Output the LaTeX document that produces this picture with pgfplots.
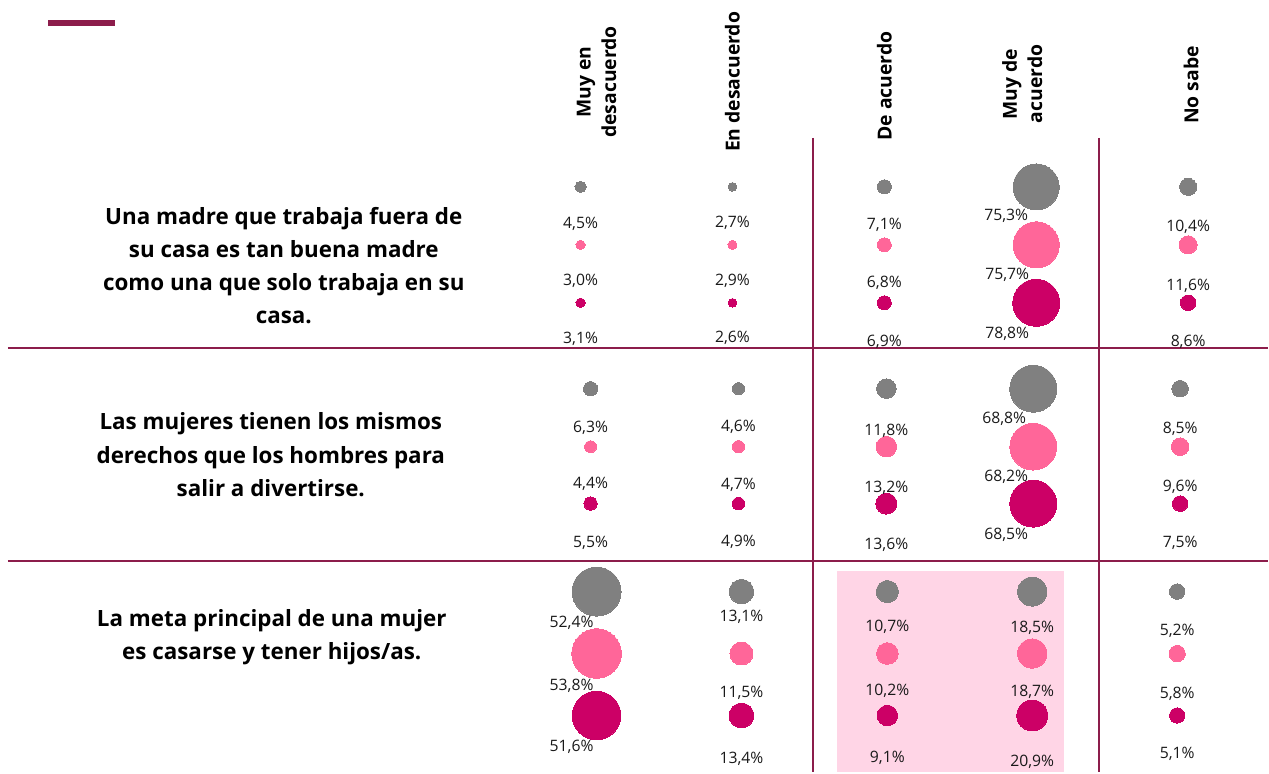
\documentclass[border=0pt]{standalone}
\usepackage{fontspec}
\setmainfont{Open Sans}
\usepackage{pgfplots}
\usepackage{pgfplotstable}
\pgfplotsset{compat=1.18}

\definecolor{grayc}{HTML}{808080}
\definecolor{pinkc}{HTML}{FF6699}
\definecolor{magc}{HTML}{CC0066}
\definecolor{linec}{HTML}{8C1D4B}
\definecolor{bgpink}{HTML}{FFD5E6}

% x y = bubble centre (px), v = value, k = bubble scale of the row, lx ly = label centre
\pgfplotstableread{
x y v k lx ly
581 187 4.5 5.30 581 224
733 187 2.7 5.30 733 223
885 187 7.1 5.30 885 225
1037 187 75.3 5.30 1007 216
1189 187 10.4 5.30 1189 227
591 389 6.3 5.67 591 428
739 389 4.6 5.67 739 427
887 389 11.8 5.67 887 431
1034 389 68.8 5.67 1005 419
1181 389 8.5 5.67 1181 429
597 592 52.4 6.77 572 623
742 592 13.1 6.77 742 617
888 592 10.7 6.77 888 627
1033 592 18.5 6.77 1033 628
1178 592 5.2 6.77 1178 631
}\graydata
\pgfplotstableread{
x y v k lx ly
581 245 3.0 5.30 581 281
733 245 2.9 5.30 733 281
885 245 6.8 5.30 885 283
1037 245 75.7 5.30 1008 275
1189 245 11.6 5.30 1189 286
591 447 4.4 5.67 591 484
739 447 4.7 5.67 739 485
887 447 13.2 5.67 887 488
1034 447 68.2 5.67 1007 477
1181 447 9.6 5.67 1181 487
597 654 53.8 6.77 572 686
742 654 11.5 6.77 742 693
888 654 10.2 6.77 888 691
1033 654 18.7 6.77 1033 692
1178 654 5.8 6.77 1178 694
}\pinkdata
\pgfplotstableread{
x y v k lx ly
581 303 3.1 5.30 581 339
733 303 2.6 5.30 733 338
885 303 6.9 5.30 885 342
1037 303 78.8 5.30 1008 334
1189 303 8.6 5.30 1189 342
591 504 5.5 5.67 591 543
739 504 4.9 5.67 739 542
887 504 13.6 5.67 887 545
1034 504 68.5 5.67 1007 535
1181 504 7.5 5.67 1181 543
597 716 51.6 6.77 572 747
742 716 13.4 6.77 742 759
888 716 9.1 6.77 888 758
1033 716 20.9 6.77 1033 762
1178 716 5.1 6.77 1178 754
}\magdata

\pgfplotsset{
  bubble/.style={
    scatter, only marks, mark=*, color=#1,
    mark options={draw=#1, fill=#1, line width=0pt},
    scatter/use mapped color={draw=#1, fill=#1},
    visualization depends on={0.375*\thisrow{k}*sqrt(\thisrow{v}) \as \msize},
    scatter/@pre marker code/.append style={/tikz/mark size=\msize},
  },
  pct/.style={
    only marks, mark=none, point meta=explicit,
    nodes near coords={\pgfmathprintnumber[fixed, fixed zerofill, precision=1, use comma, assume math mode=true]{\pgfplotspointmeta}\%},
    nodes near coords align=center,
    every node near coord/.append style={font=\fontsize{11.8}{13}\selectfont, text=black!90, inner sep=0pt},
  },
}

\begin{document}
\begin{tikzpicture}
\begin{axis}[
  width=951.75pt, height=579.75pt, scale only axis,
  xmin=0, xmax=1269, ymin=0, ymax=773, y dir=reverse,
  hide axis, clip=false,
]
\path (axis cs:0,0) rectangle (axis cs:1269,773);
\fill[bgpink] (axis cs:838,571) rectangle (axis cs:1065,773);
\fill[linec] (axis cs:48,20) rectangle (axis cs:115,26);
\draw[linec, line width=1.4pt] (axis cs:8,348) -- (axis cs:1269,348);
\draw[linec, line width=1.4pt] (axis cs:8,561) -- (axis cs:1269,561);
\draw[linec, line width=1.4pt] (axis cs:814,138) -- (axis cs:814,773);
\draw[linec, line width=1.4pt] (axis cs:1100,138) -- (axis cs:1100,773);

\addplot[bubble=grayc] table[x=x, y=y] {\graydata};
\addplot[bubble=pinkc] table[x=x, y=y] {\pinkdata};
\addplot[bubble=magc] table[x=x, y=y] {\magdata};
\addplot[pct] table[x=lx, y=ly, meta=v] {\graydata};
\addplot[pct] table[x=lx, y=ly, meta=v] {\pinkdata};
\addplot[pct] table[x=lx, y=ly, meta=v] {\magdata};

\begin{scope}[every node/.style={rotate=90, align=center, font=\bfseries\fontsize{14.5}{19}\selectfont}]
\node at (axis cs:597,82) {Muy en\\desacuerdo};
\node at (axis cs:733,82) {En desacuerdo};
\node at (axis cs:885,86) {De acuerdo};
\node at (axis cs:1023,84) {Muy de\\acuerdo};
\node at (axis cs:1192,85) {No sabe};
\end{scope}

\begin{scope}[every node/.style={align=center, font=\bfseries\fontsize{16.8}{24.8}\selectfont}]
\node at (axis cs:284,266) {Una madre que trabaja fuera de\\su casa es tan buena madre\\como una que solo trabaja en su\\casa.};
\node at (axis cs:271,455) {Las mujeres tienen los mismos\\derechos que los hombres para\\salir a divertirse.};
\node at (axis cs:272,638) {La meta principal de una mujer\\es casarse y tener hijos/as.};
\end{scope}
\end{axis}
\end{tikzpicture}
\end{document}
